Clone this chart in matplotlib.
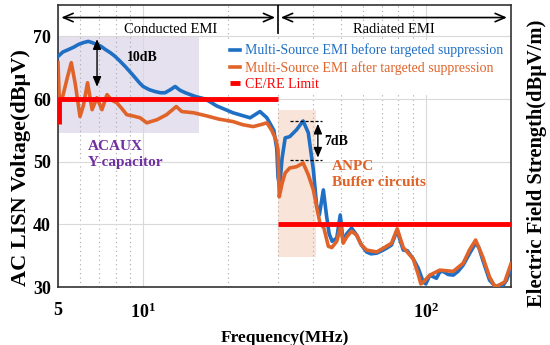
import matplotlib
matplotlib.use("Agg")
import matplotlib.pyplot as plt
from matplotlib.ticker import FixedLocator, NullFormatter

plt.rcParams['font.family'] = ['Liberation Serif', 'DejaVu Serif']
plt.rcParams['mathtext.fontset'] = 'custom'
plt.rcParams['mathtext.rm'] = 'Liberation Serif:bold'
plt.rcParams['mathtext.bf'] = 'Liberation Serif:bold'

# spectrum before suppression (MHz, dB)
f_before = [5.0, 5.2, 5.45, 5.7, 5.9, 6.15, 6.4, 6.6, 6.86, 7.1, 7.35, 7.65, 7.96,
            8.3, 8.64, 9.0, 9.37, 9.7, 10.0, 10.5, 11.0, 11.5, 11.95, 12.5, 12.98,
            13.5, 14.1, 15.3, 16.6, 18.2, 20.8, 23.9, 25.9, 27.4, 29.0, 29.7, 30.0,
            30.4, 31.0, 31.8, 33.0, 34.9, 36.8, 38.4, 40.0, 41.1, 42.0, 43.4, 44.5,
            45.5, 46.6, 48.4, 49.8, 51.0, 52.5, 54.6, 56.9, 59.0, 61.7, 64.0, 67.0,
            70.0, 72.6, 75.6, 79.2, 81.0, 83.2, 86.0, 90.2, 94.0, 97.9, 100.0, 103.3,
            109.0, 112.0, 115.0, 120.0, 125.0, 130.0, 135.5, 143.0, 150.0, 154.0,
            159.0, 168.0, 175.0, 182.0, 188.0, 193.0, 200.0]
v_before = [66.8, 67.5, 67.9, 68.3, 68.7, 69.0, 69.2, 69.0, 68.7, 68.4, 67.9, 67.4, 66.8,
            66.0, 65.2, 64.3, 63.4, 62.6, 62.0, 61.5, 61.2, 61.0, 61.0, 61.5, 62.0,
            61.4, 61.0, 60.4, 60.0, 58.9, 57.8, 57.0, 58.0, 57.0, 55.0, 52.0, 47.5,
            46.0, 50.5, 53.8, 54.0, 55.1, 56.5, 54.6, 48.7, 43.0, 41.5, 45.5, 41.5,
            38.5, 37.3, 37.8, 41.5, 37.3, 38.5, 39.4, 38.3, 36.8, 35.6, 35.3, 35.4,
            35.8, 36.2, 36.7, 39.1, 37.5, 35.9, 35.8, 34.5, 33.0, 30.8, 30.5, 31.9,
            31.4, 32.4, 32.5, 32.0, 31.9, 32.5, 33.5, 35.4, 37.0, 36.3,
            34.3, 31.1, 30.2, 30.0, 30.3, 31.1, 33.0]

# spectrum after suppression
f_after = [5.0, 5.05, 5.2, 5.4, 5.57, 5.75, 5.98, 6.15, 6.36, 6.6, 6.86, 7.15, 7.45,
           7.75, 8.07, 8.4, 8.75, 9.2, 9.76, 10.3, 11.2, 12.1, 13.1, 13.7, 15.1, 16.8,
           18.5, 20.8, 22.5, 24.5, 26.0, 27.4, 28.5, 29.5, 30.0, 30.3, 31.0, 31.8,
           33.0, 34.9, 36.8, 38.4, 40.0, 41.1, 42.2, 43.6, 45.2, 46.5, 48.4, 50.0,
           51.0, 52.5, 54.6, 56.9, 59.0, 61.7, 67.0, 72.6, 75.6, 79.2, 83.2, 90.2,
           94.0, 96.0, 98.0, 103.3, 112.0, 125.0, 135.5, 143.0, 150.0, 159.0, 168.0,
           176.0, 190.0, 200.0]
v_after = [65.8, 60.0, 60.5, 63.5, 65.8, 62.5, 57.2, 59.0, 62.6, 58.3, 60.2, 58.3, 60.7,
           59.8, 59.4, 58.5, 57.5, 57.3, 57.0, 56.2, 56.7, 57.5, 58.8, 58.0, 57.8, 57.3,
           56.8, 56.4, 55.9, 55.6, 55.9, 56.2, 55.0, 53.5, 51.9, 44.4, 46.5, 48.2,
           49.0, 49.2, 49.8, 47.9, 45.5, 42.8, 40.2, 39.4, 36.5, 36.3, 37.3, 39.7,
           37.0, 38.0, 38.9, 38.3, 36.8, 35.9, 35.6, 36.5, 37.0, 39.3, 36.3, 34.5,
           32.0, 30.5, 30.8, 31.9, 32.7, 32.5, 33.8, 36.0, 37.5, 34.8, 31.6,
           30.0, 30.8, 33.7]

# CE / RE limits
ce_f = [5.02, 5.02, 30.0]
ce_v = [56.0, 60.0, 60.0]
re_f = [30.0, 200.0]
re_v = [40.0, 40.0]

blue = '#1f6fc5'
orange = '#e0642a'
red = '#ff0000'
purple = '#7030a0'

fig, ax = plt.subplots(figsize=(5.5, 3.45), dpi=100)
fig.subplots_adjust(left=0.1055, right=0.929, top=0.9855, bottom=0.168)

ax.set_xscale('log')
ax.set_xlim(5, 200)
ax.set_ylim(30, 75)

# grid
ax.set_yticks([30, 40, 50, 60, 70])
ax.set_xticks([5, 10, 100])
ax.set_xticklabels(['5', r'$\mathbf{10^1}$', r'$\mathbf{10^2}$'])
ax.xaxis.set_minor_locator(FixedLocator([6, 7, 8, 9, 20, 30, 40, 50, 60, 70, 80, 90, 200]))
ax.xaxis.set_minor_formatter(NullFormatter())
ax.grid(True, which='major', axis='y', color='#d9d9d9', lw=0.8)
ax.grid(True, which='major', axis='x', color='#d9d9d9', lw=0.8)
for xv in [6, 7, 8, 9, 20, 30, 40, 50, 60, 70, 80, 90]:
    ax.axvline(xv, color='#a8a8a8', lw=0.8, ls=(0, (1, 3)), zorder=0.5)
ax.set_axisbelow(True)
ax.tick_params(which='both', direction='in', length=0, labelsize=13)
ax.tick_params(axis='x', pad=11)
ax.tick_params(axis='y', pad=5)
for lab in ax.get_yticklabels() + ax.get_xticklabels():
    lab.set_fontweight('bold')

# highlighted regions
ax.axvspan(5, 15.8, ymin=(54.5 - 30) / 45, ymax=(70 - 30) / 45,
           color='#e6e1ee', zorder=0.3, lw=0)
ax.axvspan(30, 40.8, ymin=(34.8 - 30) / 45, ymax=(58.3 - 30) / 45,
           color='#f9e4da', zorder=0.3, lw=0)

ax.plot(f_before, v_before, color=blue, lw=2.6, zorder=3,
        label='Multi-Source EMI before targeted suppression')
ax.plot(f_after, v_after, color=orange, lw=2.6, zorder=3.5,
        label='Multi-Source EMI after targeted suppression')
ax.plot(ce_f, ce_v, color=red, lw=3.5, zorder=4, solid_capstyle='butt',
        label='CE/RE Limit')
ax.plot(re_f, re_v, color=red, lw=3.5, zorder=4, solid_capstyle='butt')

# region arrows on top
ax.annotate('', xy=(5.02, 73), xytext=(30, 73),
            arrowprops=dict(arrowstyle='<->,head_length=0.7,head_width=0.3', lw=1.2, color='k'))
ax.annotate('', xy=(30, 73), xytext=(198, 73),
            arrowprops=dict(arrowstyle='<->,head_length=0.7,head_width=0.3', lw=1.2, color='k'))
ax.plot([30, 30], [70.5, 75], color='k', lw=1.2, zorder=5)
ax.text(12.5, 71.1, 'Conducted EMI', fontsize=10.5, ha='center', va='center')
ax.text(77, 71.1, 'Radiated EMI', fontsize=10.5, ha='center', va='center')

# 10 dB marker
ax.annotate('', xy=(6.87, 70), xytext=(6.87, 61.5),
            arrowprops=dict(arrowstyle='<|-|>,head_length=0.6,head_width=0.25', lw=1.0, color='k'))
ax.text(8.8, 66.6, '10dB', fontsize=10, fontweight='bold', va='center')

# 7 dB marker
ax.plot([33, 42.8], [56.5, 56.5], color='k', lw=0.9, ls=(0, (2.5, 1.5)), zorder=5)
ax.plot([33, 42.8], [50.2, 50.2], color='k', lw=0.9, ls=(0, (2.5, 1.5)), zorder=5)
ax.annotate('', xy=(41.5, 56.5), xytext=(41.5, 50.2),
            arrowprops=dict(arrowstyle='<|-|>,head_length=0.6,head_width=0.25', lw=1.0, color='k'))
ax.text(43.8, 53.3, '7dB', fontsize=10, fontweight='bold', va='center')

ax.text(6.35, 53.4, 'ACAUX\nY-capacitor', color=purple, fontsize=11,
        fontweight='bold', va='top', linespacing=1.3)
ax.text(46.5, 50.2, 'ANPC\nBuffer circuits', color=orange, fontsize=11,
        fontweight='bold', va='top', linespacing=1.3)

leg = ax.legend(loc='upper right', bbox_to_anchor=(1.0, 0.89), fontsize=10,
                handlelength=0.7, handletextpad=0.4, labelspacing=0.25,
                frameon=True, facecolor='white', edgecolor='none', framealpha=1,
                borderpad=0.25, borderaxespad=0.3, labelcolor='linecolor')
leg.set_zorder(6)

ax.set_xlabel('Frequency(MHz)', fontsize=12.5, fontweight='bold', labelpad=6)

# axis titles on both sides, placed in figure coordinates
fig.text(21 / 550, 1 - 168 / 345, 'AC LISN Voltage(dBμV)', rotation=90,
         fontsize=16, fontweight='bold', ha='center', va='center')
fig.text(537 / 550, 1 - 163 / 345, 'Electric Field Strength(dBμV/m)', rotation=90,
         fontsize=14.8, fontweight='bold', ha='center', va='center')

for sp in ax.spines.values():
    sp.set_color('#333333')
    sp.set_linewidth(1.2)

fig.savefig('out.png', dpi=100)
